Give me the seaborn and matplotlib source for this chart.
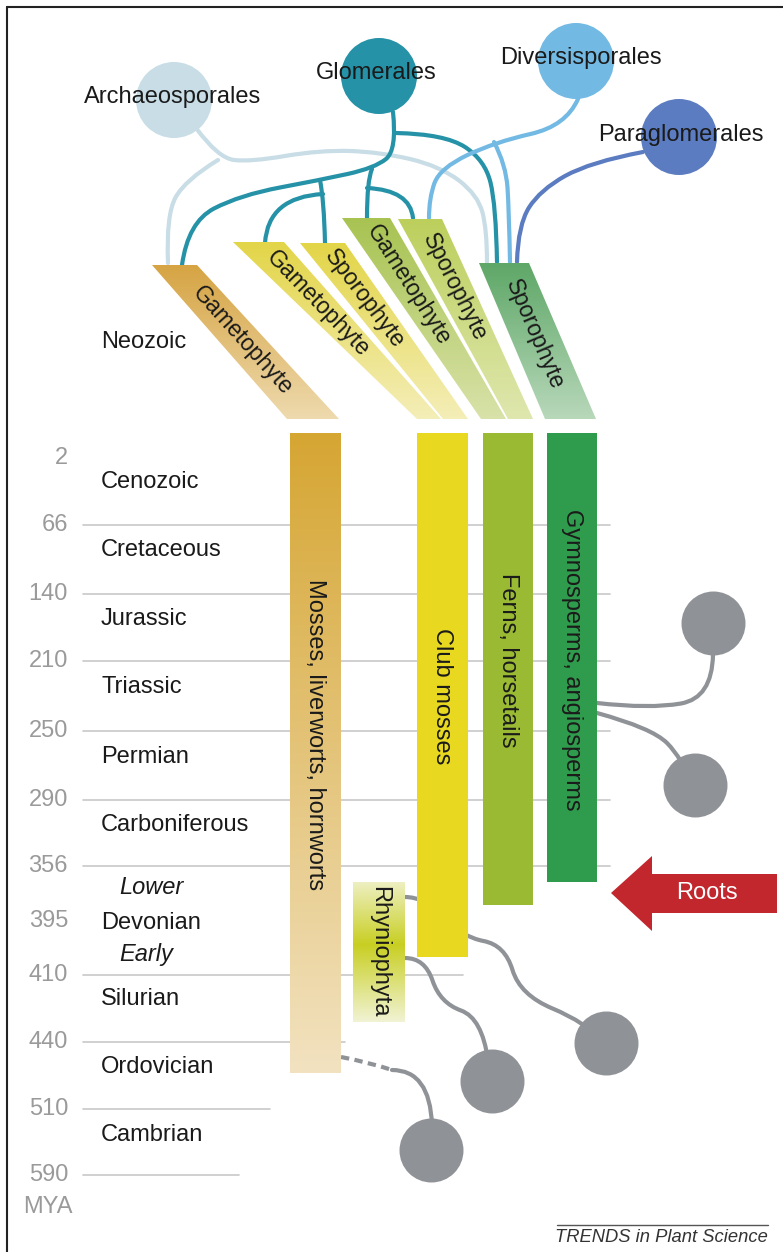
import numpy as np
import pandas as pd
import matplotlib
matplotlib.use("Agg")
import matplotlib.pyplot as plt
import seaborn as sns
from matplotlib.patches import Polygon, PathPatch
from matplotlib.path import Path
from matplotlib.colors import to_rgba

sns.set_theme(style="white")
plt.rcParams['font.family'] = ['Liberation Sans', 'DejaVu Sans']

# ---- data ----
mya_ticks = [2, 66, 140, 210, 250, 290, 356, 395, 410, 440, 510, 590]
grid_ticks = [66, 140, 210, 250, 290, 356, 410, 440, 510, 590]
periods = ["Neozoic", "Cenozoic", "Cretaceous", "Jurassic", "Triassic", "Permian",
           "Carboniferous", "Devonian", "Silurian", "Ordovician", "Cambrian"]
sub_periods = ["Lower", "Early"]

lineages = ["Mosses, liverworts, hornworts", "Club mosses", "Ferns, horsetails",
            "Gymnosperms, angiosperms", "Rhyniophyta"]
lineage_start = [0, 0, 0, 0, 367]      # MYA
lineage_end = [472, 405, 384, 367, 431]  # MYA

phases = ["Gametophyte", "Gametophyte", "Sporophyte", "Gametophyte", "Sporophyte", "Sporophyte"]
fungi = ["Archaeosporales", "Glomerales", "Diversisporales", "Paraglomerales"]

# ---- layout / style ----
W, H = 783, 1252
tick_rows = [458, 525, 594, 661, 731, 800, 866, 921, 975, 1042, 1109, 1175]
scale_mya = [0] + mya_ticks
scale_px = [433] + tick_rows
grid_right = [610, 610, 610, 610, 610, 610, 463, 345, 270, 239]
period_rows = [342, 482, 550, 619, 687, 757, 825, 923, 999, 1067, 1135]
sub_rows = [887, 955]

bar_x = [315.5, 442.5, 508, 572, 379]
bar_w = [51, 51, 50, 50, 52]
bar_label_y = [735, 696, 660, 660, 952]
bar_colors = [None, "#e8d81f", "#9aba34", "#2f9b4c", None]

wedges = [
    [(152, 265), (197, 265), (339, 419), (287, 419)],
    [(233, 242), (284, 242), (441, 419), (417, 419)],
    [(300, 243), (345, 243), (468, 419), (443, 419)],
    [(342, 218), (390, 218), (506, 419), (481, 419)],
    [(398, 219), (442, 219), (533, 419), (508, 419)],
    [(479, 263), (529, 263), (596, 419), (545, 419)],
]
wedge_top = ["#d6a443", "#e3d548", "#e3d548", "#a8c352", "#bccf5c", "#5ea767"]
wedge_bot = ["#eedaae", "#f4eeb8", "#f4eeb8", "#d8e2a9", "#dfe7ae", "#b8d8ba"]
wedge_txt_d = [102, 86, 70, 79, 76, 78]

fungi_xy = [(174, 100), (379, 76), (576, 61), (679, 137)]
fungi_colors = ["#c8dde6", "#2592a7", "#72b9e3", "#5b7cc0"]
fungi_label_xy = [(173, 97), (376, 73), (581, 58), (681, 135)]

tips_xy = [(713, 623), (695, 785), (606, 1043), (492, 1081), (431, 1150)]
grey = "#8f9296"

tree = {
    "#c8dde6": [
        [(196, 128), (218, 158), (250, 162), (320, 150), (380, 152), (440, 166), (478, 195), (487, 230), (487, 262)],
        [(218, 160), (185, 180), (166, 215), (168, 263)],
    ],
    "#2592a7": [
        [(393, 112), (397, 150), (375, 168), (320, 180), (240, 195), (188, 222), (182, 265)],
        [(320, 180), (324, 200), (325, 243)],
        [(323, 194), (268, 197), (265, 243)],
        [(372, 169), (367, 180), (367, 218)],
        [(367, 188), (410, 190), (413, 218)],
        [(396, 133), (445, 134), (485, 160), (496, 205), (497, 262)],
    ],
    "#72b9e3": [
        [(578, 99), (566, 126), (495, 142), (440, 168), (429, 198), (429, 218)],
        [(494, 142), (506, 165), (509, 210), (510, 262)],
    ],
    "#5b7cc0": [
        [(643, 152), (590, 162), (540, 190), (518, 225), (517, 262)],
    ],
}

roots = [
    [(597, 703), (650, 709), (712, 698), (713, 655)],
    [(597, 713), (652, 728), (682, 758), (692, 785)],
    [(405, 897), (425, 897), (462, 937), (505, 945), (520, 995), (585, 1022), (606, 1043)],
    [(405, 958), (425, 958), (440, 1003), (482, 1018), (488, 1060)],
    [(392, 1070), (430, 1070), (432, 1125)],
]
dashed_root = [(341, 1057), (368, 1062), (392, 1070)]

TXT = "#1a1a1a"


def y_of(mya):
    return np.interp(mya, scale_mya, scale_px)


def smooth_path(pts):
    pts = np.asarray(pts, float)
    verts, codes = [pts[0]], [Path.MOVETO]
    if len(pts) == 2:
        verts.append(pts[1]); codes.append(Path.LINETO)
    else:
        for i in range(1, len(pts) - 1):
            end = (pts[i] + pts[i + 1]) / 2 if i < len(pts) - 2 else pts[i + 1]
            verts += [pts[i], end]
            codes += [Path.CURVE3, Path.CURVE3]
    return Path(verts, codes)


def gradient_fill(ax, verts, stops, colors, z):
    verts = np.asarray(verts, float)
    poly = Polygon(verts, closed=True, fc="none", ec="none")
    ax.add_patch(poly)
    x0, x1 = verts[:, 0].min(), verts[:, 0].max()
    y0, y1 = verts[:, 1].min(), verts[:, 1].max()
    t = np.linspace(0, 1, 256)
    rgba = np.array([to_rgba(c) for c in colors])
    img = np.stack([np.interp(t, stops, rgba[:, k]) for k in range(4)], axis=-1)[:, None, :]
    im = ax.imshow(img, extent=(x0, x1, y1, y0), aspect="auto", zorder=z,
                   interpolation="bilinear")
    im.set_clip_path(poly)


fig = plt.figure(figsize=(W / 100, H / 100), dpi=100)
ax = fig.add_axes([0, 0, 1, 1])
ax.axis("off")

# frame (cropped: left and top)
ax.plot([7, 7], [7, H], color="#222222", lw=1.5, zorder=10)
ax.plot([7, W], [7, 7], color="#222222", lw=1.5, zorder=10)

# time axis
for t, yr in zip(mya_ticks, tick_rows):
    ax.text(68, yr, str(t), ha="right", va="center", fontsize=17, color="#9a9a9a")
ax.text(48, 1207, "MYA", ha="center", va="center", fontsize=17, color="#9a9a9a")
for t, xr in zip(grid_ticks, grid_right):
    yy = y_of(t)
    ax.plot([83, xr], [yy, yy], color="#c8c8c8", lw=1.2, zorder=1)

for name, yr in zip(periods, period_rows):
    ax.text(101, yr, name, ha="left", va="center", fontsize=17, color=TXT)
for name, yr in zip(sub_periods, sub_rows):
    ax.text(119, yr, name, ha="left", va="center", fontsize=17, color=TXT, style="italic")

# lineage bars
for i, name in enumerate(lineages):
    top, bot = y_of(lineage_start[i]), y_of(lineage_end[i])
    x0, x1 = bar_x[i] - bar_w[i] / 2, bar_x[i] + bar_w[i] / 2
    rect = [(x0, top), (x1, top), (x1, bot), (x0, bot)]
    if i == 0:
        gradient_fill(ax, rect, [0, 1], ["#d6a633", "#f2e2c0"], 3)
    elif i == 4:
        gradient_fill(ax, rect, [0, 0.45, 1], ["#eef0c4", "#c8cf22", "#f1f3d4"], 3)
    else:
        ax.bar(bar_x[i], bot - top, bottom=top, width=bar_w[i], color=bar_colors[i],
               linewidth=0, zorder=3)
    ax.text(bar_x[i], bar_label_y[i], name, rotation=-90, ha="center", va="center",
            fontsize=17, color=TXT, zorder=6)

# fans of life stages
for i, verts in enumerate(wedges):
    gradient_fill(ax, verts, [0, 1], [wedge_top[i], wedge_bot[i]], 2.5)
    v = np.asarray(verts, float)
    tc = (v[0] + v[1]) / 2
    bc = (v[2] + v[3]) / 2
    d = bc - tc
    u = d / np.hypot(*d)
    cx, cy = tc + u * wedge_txt_d[i]
    ang = -np.degrees(np.arctan2(d[1], d[0]))
    ax.text(cx, cy, phases[i], rotation=ang, rotation_mode="anchor", ha="center",
            va="center", fontsize=16.5, color=TXT, zorder=6)

# fungal tree
for col, paths in tree.items():
    for pts in paths:
        ax.add_patch(PathPatch(smooth_path(pts), fc="none", ec=col, lw=3,
                               capstyle="round", zorder=2))

fdf = pd.DataFrame({"x": [p[0] for p in fungi_xy], "y": [p[1] for p in fungi_xy],
                    "order": fungi})
sns.scatterplot(data=fdf, x="x", y="y", hue="order", palette=dict(zip(fungi, fungi_colors)),
                s=2994, linewidth=0, legend=False, ax=ax, zorder=4)
for name, (lx, ly) in zip(fungi, fungi_label_xy):
    ax.text(lx, ly, name, ha="center", va="center", fontsize=17, color=TXT, zorder=7)

# root tips
for pts in roots:
    ax.add_patch(PathPatch(smooth_path(pts), fc="none", ec=grey, lw=3,
                           capstyle="round", zorder=2))
ax.add_patch(PathPatch(smooth_path(dashed_root), fc="none", ec=grey, lw=3,
                       linestyle=(0, (2, 1.3)), zorder=2))
tdf = pd.DataFrame({"x": [p[0] for p in tips_xy], "y": [p[1] for p in tips_xy]})
sns.scatterplot(data=tdf, x="x", y="y", color=grey, s=2123, linewidth=0,
                legend=False, ax=ax, zorder=4)

# roots arrow
arrow = [(611, 893), (652, 856), (652, 874), (777, 874), (777, 913), (652, 913), (652, 931)]
ax.add_patch(Polygon(arrow, closed=True, fc="#c1272d", ec="none", zorder=5))
ax.text(707, 893, "Roots", ha="center", va="center", fontsize=17, color="white", zorder=6)

# footer
ax.plot([557, 768], [1225, 1225], color="#555555", lw=1, zorder=5)
ax.text(768, 1238, "TRENDS in Plant Science", ha="right", va="center", fontsize=13.2,
        style="italic", color="#333333")

ax.set_xlim(0, W)
ax.set_ylim(H, 0)
fig.savefig("out.png", dpi=100)
